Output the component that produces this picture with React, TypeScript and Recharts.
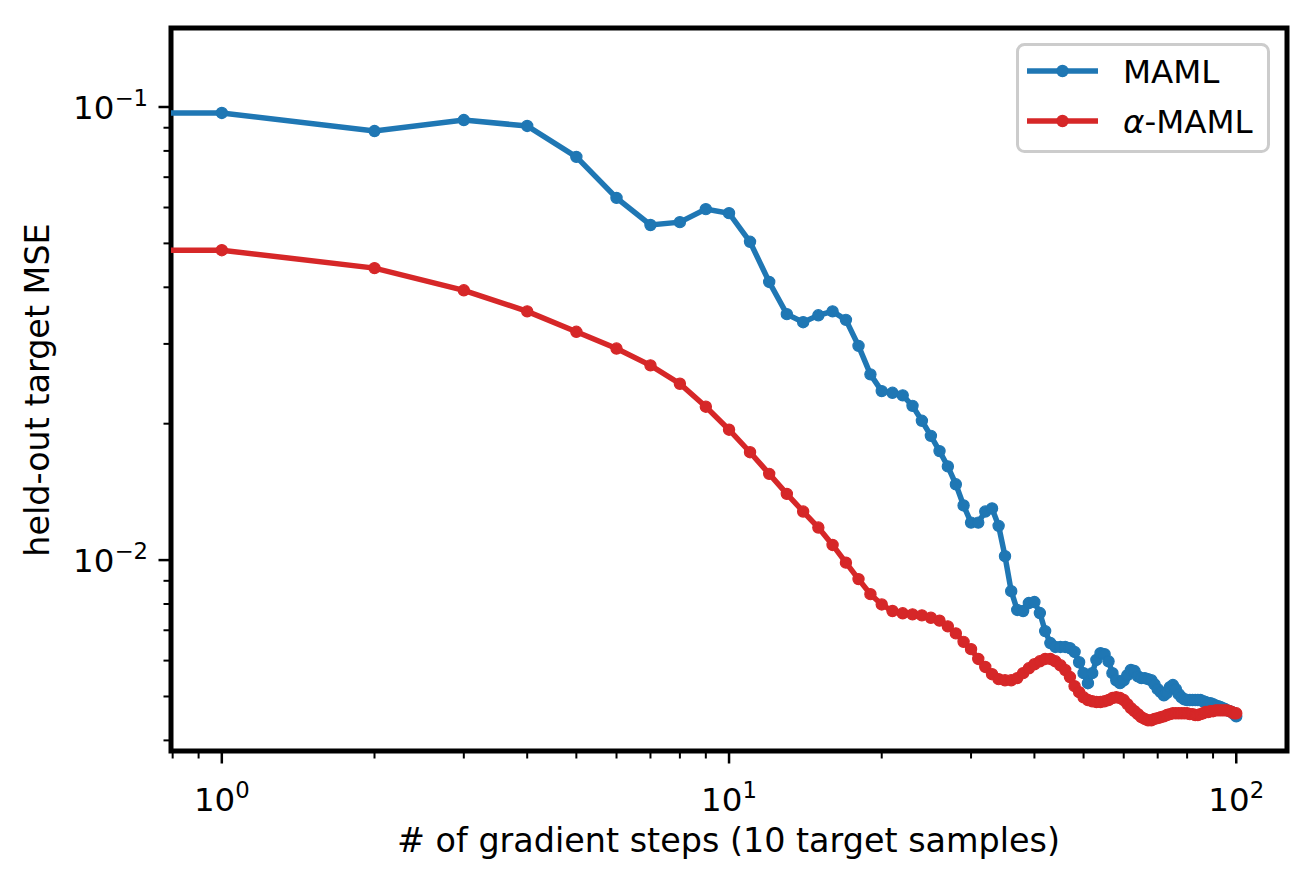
import React from "react";
import { LineChart, Line, XAxis, YAxis, Legend, ReferenceArea } from "recharts";

const BLUE = "#1f77b4";
const RED = "#d62728";
const FONT = "'DejaVu Sans', sans-serif";
const FONT_SIZE = 32.5;
const LABEL_SIZE = 33.4;

// axis limits (log scale, as matplotlib left them)
const X_MIN = 0.794;
const X_MAX = 125.9;
const Y_MIN = 0.00379;
const Y_MAX = 0.1494;

const STEPS = [
  1, 2, 3, 4, 5, 6, 7, 8, 9, 10, 11, 12, 13, 14, 15, 16, 17, 18, 19, 20,
  21, 22, 23, 24, 25, 26, 27, 28, 29, 30, 31, 32, 33, 34, 35, 36, 37, 38, 39, 40,
  41, 42, 43, 44, 45, 46, 47, 48, 49, 50, 51, 52, 53, 54, 55, 56, 57, 58, 59, 60,
  61, 62, 63, 64, 65, 66, 67, 68, 69, 70, 71, 72, 73, 74, 75, 76, 77, 78, 79, 80,
  81, 82, 83, 84, 85, 86, 87, 88, 89, 90, 91, 92, 93, 94, 95, 96, 97, 98, 99, 100,
];

const MAML = [
  0.097, 0.0885, 0.0936, 0.0908, 0.0776, 0.063, 0.0549, 0.0557, 0.0595, 0.0583,
  0.0504, 0.0411, 0.0349, 0.0335, 0.0347, 0.0354, 0.0339, 0.0297, 0.0257, 0.0236,
  0.0234, 0.0231, 0.0219, 0.0203, 0.0188, 0.0174, 0.0161, 0.0147, 0.0132, 0.0121,
  0.0121, 0.0128, 0.013, 0.0119, 0.0102, 0.00854, 0.00776, 0.00772, 0.00804, 0.00808,
  0.00764, 0.00697, 0.00656, 0.00643, 0.00643, 0.00643, 0.00639, 0.00627, 0.00595, 0.00563,
  0.00535, 0.00563, 0.00602, 0.00623, 0.0062, 0.00598, 0.00563, 0.00543, 0.00535, 0.00543,
  0.00557, 0.00572, 0.00569, 0.00554, 0.00549, 0.00549, 0.00546, 0.00543, 0.00532, 0.00519,
  0.00511, 0.00503, 0.00509, 0.00524, 0.0053, 0.00519, 0.00506, 0.00498, 0.00493, 0.00491,
  0.00491, 0.00491, 0.00491, 0.00491, 0.00491, 0.00488, 0.00486, 0.00483, 0.00483, 0.00481,
  0.00478, 0.00476, 0.00474, 0.00471, 0.00469, 0.00466, 0.00464, 0.00462, 0.00457, 0.00452,
];

const ALPHA_MAML = [
  0.0483, 0.0441, 0.0394, 0.0354, 0.0319, 0.0293, 0.0269, 0.0245, 0.0218, 0.0194,
  0.0173, 0.0155, 0.014, 0.0128, 0.0118, 0.0108, 0.00987, 0.00908, 0.00841, 0.00798,
  0.00772, 0.00763, 0.00759, 0.00755, 0.00746, 0.00735, 0.00714, 0.00689, 0.0066, 0.00636,
  0.00605, 0.00581, 0.0056, 0.00546, 0.00543, 0.00543, 0.00549, 0.00563, 0.00577, 0.00589,
  0.00598, 0.00605, 0.00605, 0.00598, 0.00586, 0.00572, 0.00552, 0.00527, 0.00511, 0.00498,
  0.00491, 0.00488, 0.00486, 0.00486, 0.00488, 0.00491, 0.00496, 0.00498, 0.00496, 0.00491,
  0.00481, 0.00471, 0.00464, 0.00457, 0.0045, 0.00446, 0.00443, 0.00443, 0.00446, 0.00448,
  0.0045, 0.00452, 0.00455, 0.00457, 0.00459, 0.00459, 0.00459, 0.00459, 0.00459, 0.00459,
  0.00457, 0.00457, 0.00455, 0.00455, 0.00457, 0.00459, 0.00462, 0.00462, 0.00464, 0.00464,
  0.00466, 0.00466, 0.00466, 0.00466, 0.00466, 0.00466, 0.00464, 0.00462, 0.00459, 0.00459,
];

// step 0 lies at x = 0, off the log axis; its segment shows up flat from the left edge
const MAML_STEP0 = 0.097;
const ALPHA_STEP0 = 0.0483;

const X_TICKS = [0.8, 0.9, 1, 2, 3, 4, 5, 6, 7, 8, 9, 10, 20, 30, 40, 50, 60, 70, 80, 90, 100];
const Y_TICKS = [
  0.004, 0.005, 0.006, 0.007, 0.008, 0.009, 0.01,
  0.02, 0.03, 0.04, 0.05, 0.06, 0.07, 0.08, 0.09, 0.1,
];

const rows = [
  { step: X_MIN, maml: MAML_STEP0, alpha: ALPHA_STEP0 },
  ...STEPS.map((s, i) => ({ step: s, maml: MAML[i], alpha: ALPHA_MAML[i] })),
];

function decade(v: number) {
  const e = Math.log10(v);
  const r = Math.round(e);
  return { major: Math.abs(e - r) < 1e-6, exp: r };
}

function expText(n: number) {
  return n < 0 ? `\u2212${-n}` : `${n}`;
}

function XTick(props: any) {
  const { x, y, payload } = props;
  const { major, exp } = decade(payload.value);
  return (
    <g>
      <line x1={x} y1={y + 1} x2={x} y2={y + (major ? 12.5 : 7.5)} stroke="#000" strokeWidth={major ? 2.5 : 2} />
      {major && (
        <text x={x} y={y + 60} textAnchor="middle" fontSize={FONT_SIZE} fontFamily={FONT} fill="#000">
          10
          <tspan dy={-13} fontSize={FONT_SIZE * 0.7}>{expText(exp)}</tspan>
        </text>
      )}
    </g>
  );
}

function YTick(props: any) {
  const { x, y, payload } = props;
  const { major, exp } = decade(payload.value);
  return (
    <g>
      <line x1={x - 1} y1={y} x2={x - (major ? 12.5 : 7.5)} y2={y} stroke="#000" strokeWidth={major ? 2.5 : 2} />
      {major && (
        <text x={x - 23} y={y + 12} textAnchor="end" fontSize={FONT_SIZE} fontFamily={FONT} fill="#000">
          10
          <tspan dy={-13} fontSize={FONT_SIZE * 0.7}>{expText(exp)}</tspan>
        </text>
      )}
    </g>
  );
}

function XLabel() {
  return (
    <text x={728.5} y={852} textAnchor="middle" fontSize={LABEL_SIZE} fontFamily={FONT} fill="#000">
      # of gradient steps (10 target samples)
    </text>
  );
}

function YLabel() {
  return (
    <text
      x={49}
      y={390}
      transform="rotate(-90 49 390)"
      textAnchor="middle"
      fontSize={LABEL_SIZE}
      fontFamily={FONT}
      fill="#000"
    >
      held-out target MSE
    </text>
  );
}

const makeDot = (color: string) => (props: any) => {
  const { cx, cy, index } = props;
  if (index === 0 || cx == null || cy == null) return <g key={`d-${index}`} />;
  return <circle key={`d-${index}`} cx={cx} cy={cy} r={5.6} fill={color} stroke={color} strokeWidth={1.2} />;
};

function LegendBox() {
  const entries = [
    { color: BLUE, y: 28, label: <tspan>MAML</tspan> },
    {
      color: RED,
      y: 78,
      label: (
        <>
          <tspan fontStyle="italic">α</tspan>
          <tspan>-MAML</tspan>
        </>
      ),
    },
  ];
  return (
    <svg width={254} height={110} style={{ display: "block" }}>
      <rect x={1.5} y={1.5} width={251} height={107} rx={7} fill="#fff" fillOpacity={0.8} stroke="#cccccc" strokeWidth={3} />
      {entries.map((e, i) => (
        <g key={i}>
          <line x1={11} y1={e.y} x2={82} y2={e.y} stroke={e.color} strokeWidth={5.5} />
          <circle cx={46.5} cy={e.y} r={5.6} fill={e.color} stroke={e.color} strokeWidth={1.2} />
          <text x={107} y={e.y + 12} fontSize={FONT_SIZE} fontFamily={FONT} fill="#000">
            {e.label}
          </text>
        </g>
      ))}
    </svg>
  );
}

export default function App() {
  return (
    <div style={{ position: "absolute", left: 0, top: 0, width: 1314, height: 880, background: "#fff" }}>
      <LineChart width={1314} height={880} data={rows} margin={{ top: 28, right: 27, left: 0, bottom: 0 }}>
        <XAxis
          dataKey="step"
          type="number"
          scale="log"
          domain={[X_MIN, X_MAX]}
          allowDataOverflow
          ticks={X_TICKS}
          interval={0}
          height={129}
          tickLine={false}
          tickSize={0}
          tickMargin={0}
          tick={(p: any) => <XTick {...p} />}
          axisLine={false}
          label={<XLabel />}
        />
        <YAxis
          type="number"
          scale="log"
          domain={[Y_MIN, Y_MAX]}
          allowDataOverflow
          ticks={Y_TICKS}
          interval={0}
          width={171}
          tickLine={false}
          tickSize={0}
          tickMargin={0}
          tick={(p: any) => <YTick {...p} />}
          axisLine={false}
          label={<YLabel />}
        />
        <Legend
          layout="vertical"
          align="center"
          verticalAlign="middle"
          wrapperStyle={{ position: "absolute", left: 1016, top: 43, width: 254, height: 110 }}
          content={() => <LegendBox />}
        />
        <Line
          dataKey="maml"
          name="MAML"
          type="linear"
          stroke={BLUE}
          strokeWidth={5.5}
          dot={makeDot(BLUE)}
          activeDot={false}
          isAnimationActive={false}
        />
        <Line
          dataKey="alpha"
          name="α-MAML"
          type="linear"
          stroke={RED}
          strokeWidth={5.5}
          dot={makeDot(RED)}
          activeDot={false}
          isAnimationActive={false}
        />
        {/* plot frame (all four spines) */}
        <ReferenceArea
          x1={X_MIN}
          x2={X_MAX}
          y1={Y_MIN}
          y2={Y_MAX}
          ifOverflow="visible"
          fill="none"
          fillOpacity={0}
          stroke="#000"
          strokeWidth={5}
        />
      </LineChart>
    </div>
  );
}
